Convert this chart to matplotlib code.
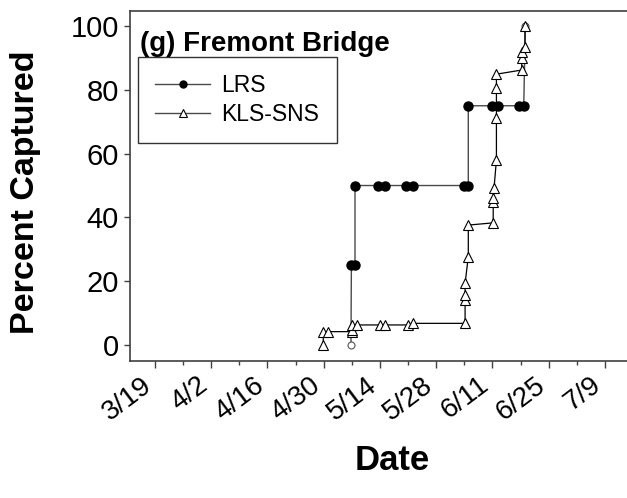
import numpy as np
import matplotlib
matplotlib.use("Agg")
import matplotlib.pyplot as plt
import matplotlib.transforms as mtransforms

plt.rcParams['font.family'] = ['Liberation Sans', 'DejaVu Sans']

# days counted from 3/19
tick_days = [0, 14, 28, 42, 56, 70, 84, 98, 112]
tick_labels = ['3/19', '4/2', '4/16', '4/30', '5/14', '5/28', '6/11', '6/25', '7/9']

# LRS cumulative capture
lrs_day = [48.8, 48.9, 49.8, 49.8, 55.5, 57.2, 62.6, 64.2, 76.9, 78.0,
           78.0, 83.9, 85.4, 90.6, 91.8, 92.2]
lrs_pct = [0, 25, 25, 50, 50, 50, 50, 50, 50, 50,
           75, 75, 75, 75, 75, 100]

# KLS-SNS cumulative capture
kls_day = [41.9, 41.9, 43.1, 49.0, 49.0, 49.0, 50.2, 56.0, 57.2, 63.0,
           64.3, 77.2, 77.2, 77.2, 77.2, 78.0, 78.0, 84.2, 84.2, 84.2,
           84.4, 85.0, 85.0, 85.0, 85.0, 91.3, 91.3, 91.3, 92.1, 92.1]
kls_pct = [0, 4.2, 4.2, 4.2, 4.8, 6.3, 6.3, 6.3, 6.3, 6.3,
           6.8, 6.8, 14.1, 15.7, 19.3, 27.7, 37.6, 38.3, 44.9, 46.0,
           49.1, 58.0, 71.1, 80.5, 84.9, 86.2, 89.9, 92.0, 93.3, 100]

W, H = 627, 498
fig = plt.figure(figsize=(W / 100, H / 100), dpi=100)
ax = fig.add_axes([130 / W, 1 - 361 / H, 497 / W, 350 / H])

line_col = '#4a4a4a'

# LRS: filled markers, with the first and last points left open
ax.plot(lrs_day, lrs_pct, color=line_col, lw=1.0, zorder=2)
ax.plot(lrs_day[1:-1], lrs_pct[1:-1], ls='none', marker='o', ms=6.5,
        mfc='black', mec='black', zorder=3)
ax.plot([lrs_day[0], lrs_day[-1]], [lrs_pct[0], lrs_pct[-1]], ls='none',
        marker='o', ms=5, mfc='white', mec='#555555', mew=0.8, zorder=3)

ax.plot(kls_day, kls_pct, color='black', lw=0.9, zorder=4)
ax.plot(kls_day, kls_pct, ls='none', marker='^', ms=7.5, mfc='white',
        mec='black', mew=0.8, zorder=5)

# legend proxies
h1, = ax.plot([], [], color=line_col, lw=1.0, marker='o', ms=5, mfc='black', mec='black')
h2, = ax.plot([], [], color=line_col, lw=1.0, marker='^', ms=6, mfc='white', mec='black', mew=0.8)
leg = ax.legend([h1, h2], ['LRS', 'KLS-SNS'], loc='upper left',
                bbox_to_anchor=(0.016, 0.869), fontsize=16.5, frameon=True,
                fancybox=False, edgecolor='black', handlelength=2.4,
                handletextpad=0.5, borderpad=0.75, labelspacing=0.25,
                borderaxespad=0)
leg.get_frame().set_linewidth(1.0)

ax.text(0.02, 0.885, '(g) Fremont Bridge', transform=ax.transAxes,
        fontsize=20, fontweight='bold', va='baseline', ha='left')

ax.set_xlim(-6.2, 117.5)
ax.set_ylim(-5, 104.7)

ax.set_xticks(tick_days)
ax.set_xticks(np.arange(7, 113, 14), minor=True)
ax.set_xticklabels(tick_labels, rotation=37, ha='right', rotation_mode='anchor')
ax.set_yticks(np.arange(0, 101, 20))

ax.tick_params(axis='both', which='major', direction='out', length=4,
               width=1.0, color='#404040', labelsize=21, pad=4)
ax.tick_params(axis='x', which='major', length=5, pad=3, labelsize=20)
ax.tick_params(axis='x', which='minor', direction='out', length=3,
               width=1.0, color='#404040')

# nudge the slanted date labels left of their ticks
shift = mtransforms.ScaledTranslation(-14 / 100, 0, fig.dpi_scale_trans)
for lab in ax.get_xticklabels():
    lab.set_transform(lab.get_transform() + shift)

ax.spines['right'].set_visible(False)
for s in ['left', 'bottom', 'top']:
    ax.spines[s].set_color('#404040')
    ax.spines[s].set_linewidth(1.2)

fig.text(26 / W, 1 - 192 / H, 'Percent Captured', rotation=90,
         fontsize=24.5, fontweight='bold', ha='center', va='center')
fig.text(392 / W, 1 - 470 / H, 'Date', fontsize=25, fontweight='bold',
         ha='center', va='baseline')

fig.savefig('out.png', dpi=100)
